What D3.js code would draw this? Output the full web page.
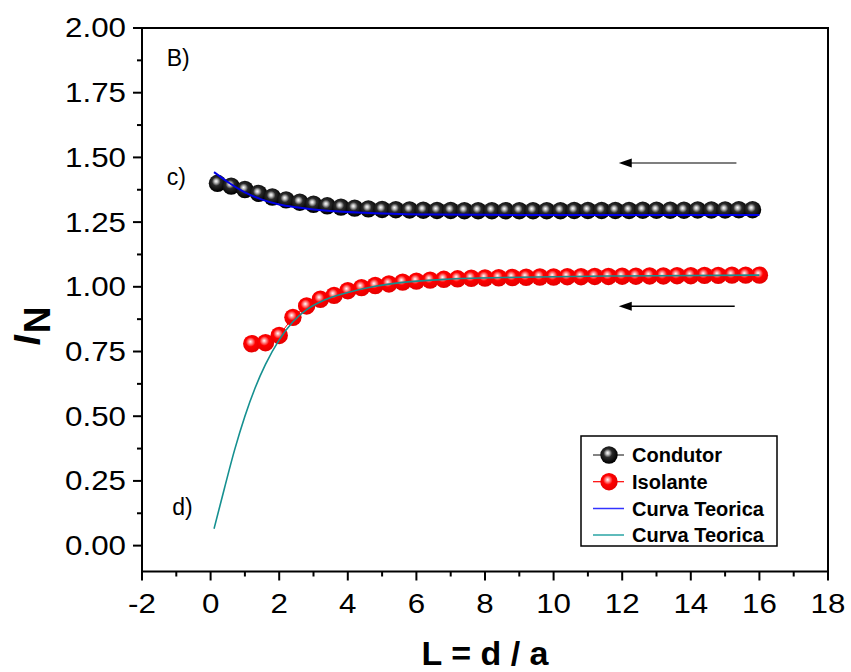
<!DOCTYPE html>
<html>
<head>
<meta charset="utf-8">
<script src="https://cdn.jsdelivr.net/npm/d3@7"></script>
<style>
  html, body { margin: 0; padding: 0; background: #fff; }
  svg { display: block; font-family: "Liberation Sans", Arial, Helvetica, sans-serif; }
</style>
</head>
<body>
<svg id="chart" width="851" height="672"></svg>
<script>
// Measured points (step 0.4 in L)
const condutorX = d3.range(40).map(i => +(0.2 + 0.4 * i).toFixed(1));
const condutorY = [1.400, 1.389, 1.376, 1.361, 1.347, 1.336, 1.327, 1.319, 1.313, 1.308,
                   1.304, 1.301, 1.299, 1.298, 1.297, 1.296, 1.295, 1.295, 1.294, 1.294,
                   1.294, 1.294, 1.294, 1.294, 1.294, 1.294, 1.295, 1.295, 1.295, 1.295,
                   1.295, 1.296, 1.296, 1.296, 1.296, 1.297, 1.297, 1.297, 1.298, 1.298];

const isolanteX = d3.range(38).map(i => +(1.2 + 0.4 * i).toFixed(1));
const isolanteY = [0.780, 0.784, 0.812, 0.882, 0.926, 0.952, 0.967, 0.985, 0.997, 1.005,
                   1.011, 1.018, 1.022, 1.026, 1.029, 1.031, 1.033, 1.034, 1.035, 1.036,
                   1.037, 1.038, 1.038, 1.039, 1.039, 1.040, 1.040, 1.041, 1.041, 1.042,
                   1.042, 1.043, 1.043, 1.044, 1.044, 1.045, 1.045, 1.045];

// Theoretical curves
const teoricaCondX = [0.1, 0.5, 1.0, 1.5, 2.0, 2.5, 3.0, 3.5, 4.5, 5.5, 6.5, 8.0, 10.0, 13.0, 16.0];
const teoricaCondY = [1.443, 1.405, 1.365, 1.337, 1.318, 1.307, 1.299, 1.293, 1.286, 1.281, 1.279, 1.278, 1.277, 1.277, 1.277];

const teoricaIsoX = [0.1, 0.4, 0.7, 1.0, 1.3, 1.6, 2.0, 2.4, 2.8, 3.3, 4.0, 4.8, 5.6, 7.0, 9.0, 12.0, 16.0];
const teoricaIsoY = [0.065, 0.22, 0.37, 0.50, 0.61, 0.70, 0.795, 0.865, 0.912, 0.948, 0.978, 1.002, 1.017, 1.030, 1.037, 1.042, 1.045];

const xTicks = [-2, 0, 2, 4, 6, 8, 10, 12, 14, 16, 18];
const yTicks = [0, 0.25, 0.5, 0.75, 1.0, 1.25, 1.5, 1.75, 2.0];

const legendLabels = ["Condutor", "Isolante", "Curva Teorica", "Curva Teorica"];

// Panel annotations [text, L, I_N]
const annotations = [["B)", -1.28, 1.855], ["c)", -1.28, 1.395], ["d)", -1.12, 0.118]];
// Arrows [fromL, toL, I_N, colour]
const arrows = [[15.33, 11.9, 1.478, "#555"], [15.28, 11.9, 0.925, "#000"]];

const svg = d3.select("#chart");
const plotL = 142, plotR = 828, plotT = 28, plotB = 571.5;

const x = d3.scaleLinear().domain([-2, 18]).range([plotL, plotR]);
const y = d3.scaleLinear().domain([-0.1, 2.0]).range([plotB, plotT]);

const defs = svg.append("defs");
function sphereGradient(id, stops) {
  const g = defs.append("radialGradient").attr("id", id)
    .attr("cx", "45%").attr("cy", "42%").attr("r", "55%").attr("fx", "42%").attr("fy", "38%");
  stops.forEach(s => g.append("stop").attr("offset", s[0]).attr("stop-color", s[1]));
}
sphereGradient("ballBlack", [["0%", "#ffffff"], ["18%", "#bdbdbd"], ["45%", "#2a2a2a"], ["100%", "#000000"]]);
sphereGradient("ballRed", [["0%", "#ffffff"], ["20%", "#ff9a9a"], ["50%", "#ff0000"], ["100%", "#e60000"]]);

// Axes (ticks outward)
const xAxis = svg.append("g").attr("transform", `translate(0,${plotB})`);
const yAxis = svg.append("g").attr("transform", `translate(${plotL},0)`);
const tickFont = 27, stretch = 1.16;

const xMinor = d3.range(-1, 18, 2);
xAxis.selectAll("line.minor").data(xMinor).join("line").attr("class", "minor")
  .attr("x1", d => x(d)).attr("x2", d => x(d)).attr("y1", 0).attr("y2", 5)
  .attr("stroke", "#000").attr("stroke-width", 2);
xAxis.selectAll("line.major").data(xTicks).join("line").attr("class", "major")
  .attr("x1", d => x(d)).attr("x2", d => x(d)).attr("y1", 0).attr("y2", 9)
  .attr("stroke", "#000").attr("stroke-width", 2);
xAxis.selectAll("text").data(xTicks).join("text")
  .attr("transform", d => `translate(${x(d)},41) scale(${stretch},1)`)
  .attr("text-anchor", "middle")
  .attr("font-size", tickFont).text(d => d);

const yMinor = d3.range(0.125, 2, 0.25);
yAxis.selectAll("line.minor").data(yMinor).join("line").attr("class", "minor")
  .attr("x1", 0).attr("x2", -5).attr("y1", d => y(d)).attr("y2", d => y(d))
  .attr("stroke", "#000").attr("stroke-width", 2);
yAxis.selectAll("line.major").data(yTicks).join("line").attr("class", "major")
  .attr("x1", 0).attr("x2", -9).attr("y1", d => y(d)).attr("y2", d => y(d))
  .attr("stroke", "#000").attr("stroke-width", 2);
yAxis.selectAll("text").data(yTicks).join("text")
  .attr("transform", d => `translate(-16,${y(d)}) scale(${stretch},1)`)
  .attr("dy", "0.35em").attr("text-anchor", "end")
  .attr("font-size", tickFont).text(d3.format(".2f"));

// Frame
svg.append("rect").attr("x", plotL).attr("y", plotT)
  .attr("width", plotR - plotL).attr("height", plotB - plotT)
  .attr("fill", "none").attr("stroke", "#000").attr("stroke-width", 2);

// Axis titles
svg.append("text").attr("x", (plotL + plotR) / 2).attr("y", 665)
  .attr("text-anchor", "middle").attr("font-size", 34).attr("font-weight", "bold")
  .text("L = d / a");

const yTitle = svg.append("text").attr("transform", "translate(40,326) rotate(-90)")
  .attr("text-anchor", "middle").attr("font-size", 37).attr("font-weight", "bold");
yTitle.append("tspan").attr("font-style", "italic").text("I");
yTitle.append("tspan").attr("dy", 10).attr("dx", 2).text("N");

// Data series
const condutor = condutorX.map((v, i) => [v, condutorY[i]]);
const isolante = isolanteX.map((v, i) => [v, isolanteY[i]]);
const teoCond = teoricaCondX.map((v, i) => [v, teoricaCondY[i]]);
const teoIso = teoricaIsoX.map((v, i) => [v, teoricaIsoY[i]]);

const line = d3.line().x(d => x(d[0])).y(d => y(d[1]));
const smooth = d3.line().x(d => x(d[0])).y(d => y(d[1])).curve(d3.curveMonotoneX);

svg.append("path").datum(condutor).attr("d", line).attr("fill", "none").attr("stroke", "#000").attr("stroke-width", 1);
svg.append("path").datum(isolante).attr("d", line).attr("fill", "none").attr("stroke", "#f00").attr("stroke-width", 1);

const R = 8.7;
svg.append("g").selectAll("circle").data(condutor).join("circle")
  .attr("cx", d => x(d[0])).attr("cy", d => y(d[1])).attr("r", R)
  .attr("fill", "url(#ballBlack)");
svg.append("g").selectAll("circle").data(isolante).join("circle")
  .attr("cx", d => x(d[0])).attr("cy", d => y(d[1])).attr("r", R)
  .attr("fill", "url(#ballRed)");

svg.append("path").datum(teoCond).attr("d", smooth).attr("fill", "none")
  .attr("stroke", "#0000e6").attr("stroke-width", 2);
svg.append("path").datum(teoIso).attr("d", smooth).attr("fill", "none")
  .attr("stroke", "#159090").attr("stroke-width", 1.6);

// Annotations
svg.append("g").selectAll("text").data(annotations).join("text")
  .attr("x", d => x(d[1])).attr("y", d => y(d[2]))
  .attr("font-size", 23).text(d => d[0]);

// Arrows
arrows.forEach(a => {
  const x0 = x(a[0]), x1 = x(a[1]), yy = y(a[2]);
  svg.append("line").attr("x1", x0).attr("x2", x1 + 10).attr("y1", yy).attr("y2", yy)
    .attr("stroke", a[3]).attr("stroke-width", 1.5);
  svg.append("path").attr("d", `M${x1},${yy} L${x1 + 13},${yy - 4.5} L${x1 + 13},${yy + 4.5} Z`)
    .attr("fill", "#000");
});

// Legend
const lg = svg.append("g");
lg.append("rect").attr("x", 581).attr("y", 436).attr("width", 196).attr("height", 110)
  .attr("fill", "#fff").attr("stroke", "#000").attr("stroke-width", 1.5);
const rowY = [455, 481.7, 508.5, 535];
const lineCols = ["#333", "#f00", "#3333ff", "#2aa5a5"];
legendLabels.forEach((t, i) => {
  lg.append("line").attr("x1", 593).attr("x2", 624).attr("y1", rowY[i]).attr("y2", rowY[i])
    .attr("stroke", lineCols[i]).attr("stroke-width", i < 2 ? 1.2 : 1.5);
  if (i < 2) {
    lg.append("circle").attr("cx", 609).attr("cy", rowY[i]).attr("r", R)
      .attr("fill", i === 0 ? "url(#ballBlack)" : "url(#ballRed)");
  }
  lg.append("text").attr("x", 632).attr("y", rowY[i]).attr("dy", "0.36em")
    .attr("font-size", 20).attr("font-weight", "bold").text(t);
});
</script>
</body>
</html>
